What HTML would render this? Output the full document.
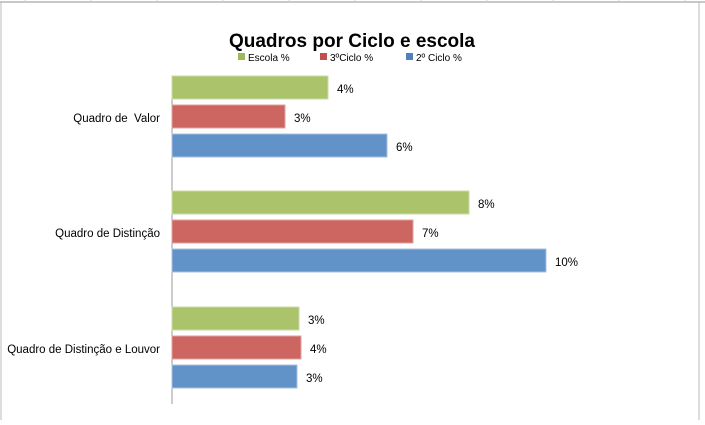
<!DOCTYPE html>
<html><head><style>
body{margin:0;width:705px;height:420px;background:#fff;overflow:hidden;font-family:"Liberation Sans",sans-serif;}
svg text{font-family:"Liberation Sans",sans-serif;}
</style></head><body>
<svg width="705" height="420" xmlns="http://www.w3.org/2000/svg">
<rect x="0" y="0" width="705" height="420" fill="#fff"/>
<line x1="0" y1="2" x2="705" y2="2" stroke="#c8c8c8" stroke-width="2"/>
<g stroke="#d0d0d0" stroke-width="1">
<line x1="25" y1="0" x2="25" y2="2"/><line x1="91" y1="0" x2="91" y2="2"/><line x1="157" y1="0" x2="157" y2="2"/><line x1="223" y1="0" x2="223" y2="2"/><line x1="289" y1="0" x2="289" y2="2"/><line x1="355" y1="0" x2="355" y2="2"/><line x1="421" y1="0" x2="421" y2="2"/><line x1="487" y1="0" x2="487" y2="2"/><line x1="553" y1="0" x2="553" y2="2"/><line x1="619" y1="0" x2="619" y2="2"/><line x1="685" y1="0" x2="685" y2="2"/>
</g>
<line x1="1" y1="2" x2="1" y2="420" stroke="#bbb"/>
<line x1="699" y1="2" x2="699" y2="420" stroke="#bbb"/>
<text x="352" y="47" text-anchor="middle" font-size="19" font-weight="bold" fill="#000">Quadros por Ciclo e escola</text>
<rect x="238" y="53" width="7" height="7" fill="#9bbb59"/><text x="248" y="61" font-size="10">Escola %</text>
<rect x="320" y="53" width="7" height="7" fill="#c0504d"/><text x="330" y="61" font-size="10">3ºCiclo %</text>
<rect x="406" y="53" width="7" height="7" fill="#4f81bd"/><text x="416" y="61" font-size="10">2º Ciclo %</text>
<line x1="172" y1="78" x2="172" y2="404" stroke="#999"/>
<g stroke-width="1">
<rect x="172" y="76" width="156" height="23" fill="#abc46c" stroke="#c9dba4"/>
<rect x="172" y="105" width="113" height="23" fill="#cd6660" stroke="#e0a19e"/>
<rect x="172" y="134" width="215" height="23" fill="#6193c8" stroke="#a4c0e0"/>
<rect x="172" y="191" width="297" height="23" fill="#abc46c" stroke="#c9dba4"/>
<rect x="172" y="220" width="241" height="23" fill="#cd6660" stroke="#e0a19e"/>
<rect x="172" y="249" width="374" height="23" fill="#6193c8" stroke="#a4c0e0"/>
<rect x="172" y="307" width="127" height="23" fill="#abc46c" stroke="#c9dba4"/>
<rect x="172" y="336" width="129" height="23" fill="#cd6660" stroke="#e0a19e"/>
<rect x="172" y="365" width="125" height="23" fill="#6193c8" stroke="#a4c0e0"/>
</g>
<g font-size="11.5" fill="#000">
<text x="337" y="93">4%</text><text x="294" y="122">3%</text><text x="396" y="151">6%</text>
<text x="478" y="208">8%</text><text x="422" y="237">7%</text><text x="555" y="266">10%</text>
<text x="308" y="324">3%</text><text x="310" y="353">4%</text><text x="306" y="382">3%</text>
<text x="160" y="122" text-anchor="end">Quadro de&#160; Valor</text>
<text x="160" y="237" text-anchor="end">Quadro de Distinção</text>
<text x="160" y="353" text-anchor="end">Quadro de Distinção e Louvor</text>
</g>
</svg>
</body></html>
